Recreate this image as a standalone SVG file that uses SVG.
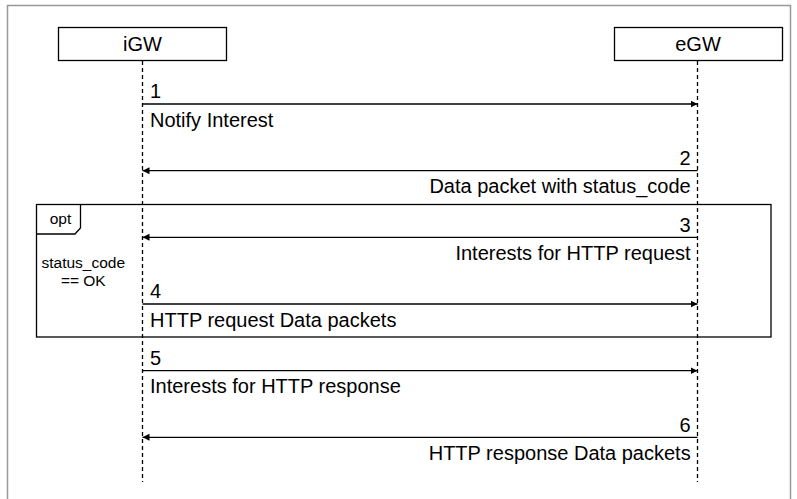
<svg xmlns="http://www.w3.org/2000/svg" width="797" height="499" viewBox="0 0 797 499">
<defs>
<style>
text{font-family:"Liberation Sans",Arial,Helvetica,sans-serif;fill:#000}
.m{font-size:20px}
.r{text-anchor:end}
.c{text-anchor:middle}
.s{font-size:15.5px}
.box{fill:#fff;stroke:#000;stroke-width:1.3}
.life{stroke:#000;stroke-width:1.3;stroke-dasharray:4 3;fill:none}
.msg{stroke:#000;stroke-width:1.3;fill:none;marker-end:url(#ah)}
</style>
<marker id="ah" markerWidth="8" markerHeight="8" refX="7" refY="3.5" orient="auto" markerUnits="userSpaceOnUse">
<path d="M0,0 L7,3.5 L0,7 Z" fill="#000"/>
</marker>
</defs>
<rect x="7.5" y="5.5" width="783" height="520" fill="#fff" stroke="#999" stroke-width="1.5"/>
<g id="opt">
<rect x="36.5" y="204.5" width="734.5" height="132.5" fill="none" stroke="#000" stroke-width="1.3"/>
<path d="M36.5,234 L75,234 L80.5,228 L80.5,204.5" fill="none" stroke="#000" stroke-width="1.3"/>
<text x="60.5" y="224.3" class="s c">opt</text>
<text x="83.3" y="268.3" class="s c">status_code</text>
<text x="83.3" y="285.7" class="s c">== OK</text>
</g>
<g id="iGW">
<rect class="box" x="58.5" y="27.5" width="168" height="33"/>
<text x="142.5" y="51" class="m c">iGW</text>
<line class="life" x1="142.5" y1="61" x2="142.5" y2="482"/>
</g>
<g id="eGW">
<rect class="box" x="614.5" y="27.5" width="168" height="33"/>
<text x="698" y="51" class="m c">eGW</text>
<line class="life" x1="697.5" y1="61" x2="697.5" y2="482"/>
</g>
<g id="connectors">
<line class="msg" x1="142.5" y1="104" x2="697.5" y2="104"/>
<text x="150" y="98" class="m">1</text>
<text x="150" y="126.7" class="m">Notify Interest</text>
<line class="msg" x1="697.5" y1="170.7" x2="142.5" y2="170.7"/>
<text x="690.7" y="165" class="m r">2</text>
<text x="690.7" y="193.3" class="m r">Data packet with status_code</text>
<line class="msg" x1="697.5" y1="237.3" x2="142.5" y2="237.3"/>
<text x="690.7" y="231.6" class="m r">3</text>
<text x="690.7" y="260" class="m r">Interests for HTTP request</text>
<line class="msg" x1="142.5" y1="304" x2="697.5" y2="304"/>
<text x="150" y="298" class="m">4</text>
<text x="150" y="326.7" class="m">HTTP request Data packets</text>
<line class="msg" x1="142.5" y1="370.7" x2="697.5" y2="370.7"/>
<text x="150" y="364.7" class="m">5</text>
<text x="150" y="393.4" class="m">Interests for HTTP response</text>
<line class="msg" x1="697.5" y1="437.3" x2="142.5" y2="437.3"/>
<text x="690.7" y="431.6" class="m r">6</text>
<text x="690.7" y="460" class="m r">HTTP response Data packets</text>
</g>
</svg>
